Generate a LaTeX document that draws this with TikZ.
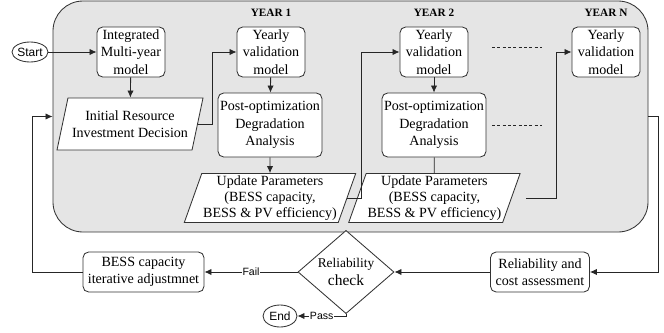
\documentclass[tikz,border=0pt]{standalone}
\usepackage{fontspec}
\setmainfont{Liberation Serif}
\setsansfont{Liberation Sans}
\usepackage{tikz}
\usetikzlibrary{shapes.geometric, arrows.meta, positioning, calc}

\begin{document}
\begin{tikzpicture}[
    font=\fontsize{10}{12.4}\selectfont,
    line width=0.6pt,
    proc/.style={
        rectangle,
        rounded corners=4pt,
        draw=black!80,
        fill=white,
        align=center,
        inner sep=1pt,
        minimum width=1.7cm,
        minimum height=1.25cm
    },
    para/.style={
        trapezium,
        trapezium left angle=70,
        trapezium right angle=110,
        trapezium stretches body,
        draw=black!80,
        fill=white,
        align=center,
        inner sep=1pt
    },
    term/.style={
        ellipse,
        draw=black!80,
        fill=white,
        inner sep=0pt,
        font=\sffamily\fontsize{8.5}{10}\selectfont
    },
    decision/.style={
        diamond,
        draw=black!80,
        fill=white,
        inner sep=0pt,
        align=center,
        minimum width=2.4cm,
        minimum height=1.7cm
    },
    flow/.style={draw=black!85, -{Latex[length=5pt,width=4.5pt]}},
    link/.style={draw=black!85},
    lbl/.style={fill=white, inner sep=0.5pt, font=\sffamily\fontsize{7.5}{9}\selectfont},
    yearlbl/.style={font=\bfseries\fontsize{8}{10}\selectfont},
    dots/.style={draw=black!85, dash pattern=on 2.2pt off 1.6pt}
]
    \useasboundingbox (0,0) rectangle (16.6,8.3);

    % Yearly simulation area (grey panel)
    \node[draw=black!80, fill=gray!20, rounded corners=0.75cm, inner sep=0pt,
          minimum width=14.875cm, minimum height=5.775cm] (frame) at (8.7625,5.3875) {};

    % Start and multi-year planning
    \node[term, minimum width=0.9cm, minimum height=0.5cm] (start) at (0.75,7.0) {Start};
    \node[proc] (multiyear) at (3.275,7.0) {Integrated\\Multi-year\\model};
    \node[para, minimum width=3.65cm, minimum height=1.3cm] (initdec) at (3.25,5.2) {Initial Resource\\Investment Decision};

    % Year 1
    \node[proc] (val1) at (6.775,7.0) {Yearly\\validation\\model};
    \node[yearlbl, above=0.12cm of val1] (yr1) {YEAR 1};
    \node[proc, minimum width=2.6cm, minimum height=1.6cm] (deg1) at (6.75,5.175) {Post-optimization\\Degradation\\Analysis};
    \node[para, minimum width=4.05cm, minimum height=1.225cm, font=\fontsize{10}{11.5}\selectfont] (upd1) at (6.75,3.35) {Update Parameters\\(BESS capacity,\\BESS \& PV efficiency)};

    % Year 2
    \node[proc] (val2) at (10.85,7.0) {Yearly\\validation\\model};
    \node[yearlbl, above=0.12cm of val2] (yr2) {YEAR 2};
    \node[proc, minimum width=2.6cm, minimum height=1.6cm] (deg2) at (10.85,5.175) {Post-optimization\\Degradation\\Analysis};
    \node[para, minimum width=4.0cm, minimum height=1.225cm, font=\fontsize{10}{11.5}\selectfont] (upd2) at (10.86,3.35) {Update Parameters\\(BESS capacity,\\BESS \& PV efficiency)};

    % Year N
    \node[proc] (valn) at (15.15,7.0) {Yearly\\validation\\model};
    \node[yearlbl, above=0.12cm of valn] (yrn) {YEAR N};

    % Skipped years
    \coordinate (gapa) at (12.3,7.125);
    \coordinate (gapb) at (13.55,7.125);
    \coordinate (gapc) at (12.3,5.175);
    \coordinate (gapd) at (13.55,5.175);
    \draw[dots] (gapa) -- (gapb);
    \draw[dots] (gapc) -- (gapd);

    % Assessment loop
    \node[proc, minimum width=2.475cm, minimum height=1.0cm] (relcost) at (13.5,1.5) {Reliability and\\cost assessment};
    \node[decision] (relcheck) at (8.65,1.5) {{\fontsize{9.5}{11}\selectfont Reliability}\\{\fontsize{11}{12}\selectfont check}};
    \node[proc, minimum width=3.025cm, minimum height=1.0cm] (adjust) at (3.5875,1.5) {BESS capacity\\iterative adjustmnet};
    \node[term, minimum width=0.85cm, minimum height=0.55cm] (finish) at (7.0,0.4) {End};

    % Connectors
    \draw[flow] (start) -- (multiyear);
    \draw[flow] (multiyear) -- (initdec);
    \draw[flow] (initdec.east) -- ++(0.35,0) |- (val1.west);
    \draw[flow] (val1) -- (deg1);
    \draw[flow] (deg1) -- (upd1);
    \draw[flow] (upd1.east) -- ++(0.35,0) |- (val2.west);
    \draw[flow] (val2) -- (deg2);
    \draw[link] (deg2) -- (upd2);
    \draw[flow, shorten <=0.35cm] (upd2.east) -- ++(1.125,0) |- (valn.west);
    \draw[flow] (frame.east) -- ++(0.25,0) |- (relcost.east);
    \draw[flow] (relcost) -- (relcheck);
    \draw[flow] (relcheck) -- node[lbl] {Fail} (adjust);
    \draw[flow] (relcheck.south) |- node[lbl, pos=0.75] {Pass} (finish.east);
    \draw[flow] (adjust.west) -- ++(-1.25,0) |- (frame.west);

\end{tikzpicture}
\end{document}
